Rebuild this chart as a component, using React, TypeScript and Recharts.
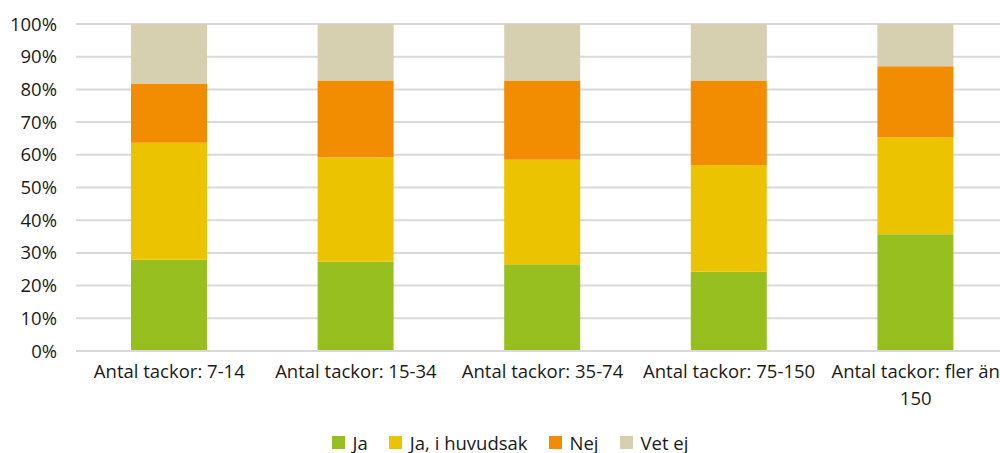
import React from "react";
import { BarChart, Bar, XAxis, YAxis, CartesianGrid, Legend } from "recharts";

const categories = [
  "Antal tackor: 7-14",
  "Antal tackor: 15-34",
  "Antal tackor: 35-74",
  "Antal tackor: 75-150",
  "Antal tackor: fler än 150",
];
const ja = [27.9, 27.3, 26.5, 24.2, 35.7];
const jaHuvudsak = [35.8, 31.9, 32.0, 32.7, 29.6];
const nej = [18.1, 23.5, 24.2, 25.8, 21.8];
const vetEj = [18.2, 17.3, 17.3, 17.3, 12.9];
const yTicks = [0, 10, 20, 30, 40, 50, 60, 70, 80, 90, 100];

const seriesNames = ["Ja", "Ja, i huvudsak", "Nej", "Vet ej"];
const seriesColors = ["#97BF20", "#EBC300", "#F28C00", "#D6CFB0"];

const data = categories.map((c, i) => ({
  name: c,
  ja: ja[i],
  jaHuvudsak: jaHuvudsak[i],
  nej: nej[i],
  vetEj: vetEj[i],
}));

const FONT = "'Open Sans', sans-serif";
const FS = 18.5;
const TXT = "#1a1a1a";

let ctx: CanvasRenderingContext2D | null = null;
const measure = (s: string) => {
  if (!ctx) {
    const c = document.createElement("canvas");
    ctx = c.getContext("2d");
  }
  if (!ctx) return s.length * FS * 0.55;
  ctx.font = `${FS}px 'Open Sans'`;
  return ctx.measureText(s).width;
};

const wrap = (s: string, maxW: number) => {
  const words = s.split(" ");
  const lines: string[] = [];
  let cur = "";
  words.forEach((w) => {
    const t = cur ? cur + " " + w : w;
    if (cur && measure(t) > maxW) {
      lines.push(cur);
      cur = w;
    } else {
      cur = t;
    }
  });
  if (cur) lines.push(cur);
  return lines;
};

const XTick = (props: any) => {
  const { x, y, payload } = props;
  const lines = wrap(String(payload.value), 180);
  return (
    <text
      x={x}
      y={y + 27}
      textAnchor="middle"
      fontSize={FS}
      fontFamily={FONT}
      fill={TXT}
    >
      {lines.map((l, i) => (
        <tspan key={i} x={x} dy={i === 0 ? 0 : 27}>
          {l}
        </tspan>
      ))}
    </text>
  );
};

const LegendContent = () => (
  <div
    style={{
      display: "flex",
      justifyContent: "center",
      alignItems: "center",
      height: 26,
      paddingLeft: 10,
      paddingTop: 5,
      boxSizing: "border-box",
      fontFamily: FONT,
      fontSize: FS,
      color: TXT,
    }}
  >
    {seriesNames.map((n, i) => (
      <div key={n} style={{ display: "flex", alignItems: "center", marginRight: i < 3 ? 21 : 0 }}>
        <div style={{ width: 13, height: 13, background: seriesColors[i], marginRight: 8 }} />
        <span style={{ lineHeight: "20px" }}>{n}</span>
      </div>
    ))}
  </div>
);

export default function App() {
  return (
    <div style={{ position: "absolute", left: 0, top: 0, width: 1000, height: 453, overflow: "hidden", background: "#fff" }}>
      <BarChart
        width={1010}
        height={453}
        data={data}
        margin={{ top: 24, right: 1, left: 0, bottom: 0 }}
      >
        <CartesianGrid vertical={false} stroke="#D9D9D9" strokeWidth={2} />
        <XAxis
          dataKey="name"
          height={76}
          tickSize={0}
          tickMargin={0}
          tickLine={false}
          axisLine={{ stroke: "#D9D9D9", strokeWidth: 2 }}
          tick={<XTick />}
          interval={0}
        />
        <YAxis
          width={76}
          domain={[0, 100]}
          ticks={yTicks}
          tickFormatter={(v: number) => `${v}%`}
          axisLine={false}
          tickLine={false}
          tickSize={0}
          tickMargin={19}
          tick={{ fontSize: FS, fill: TXT, fontFamily: FONT }}
        />
        <Legend verticalAlign="bottom" height={26} wrapperStyle={{ left: 0, width: 1010 }} content={<LegendContent />} />
        <Bar dataKey="ja" name={seriesNames[0]} stackId="a" fill={seriesColors[0]} barSize={76} isAnimationActive={false} />
        <Bar dataKey="jaHuvudsak" name={seriesNames[1]} stackId="a" fill={seriesColors[1]} barSize={76} isAnimationActive={false} />
        <Bar dataKey="nej" name={seriesNames[2]} stackId="a" fill={seriesColors[2]} barSize={76} isAnimationActive={false} />
        <Bar dataKey="vetEj" name={seriesNames[3]} stackId="a" fill={seriesColors[3]} barSize={76} isAnimationActive={false} />
      </BarChart>
    </div>
  );
}
